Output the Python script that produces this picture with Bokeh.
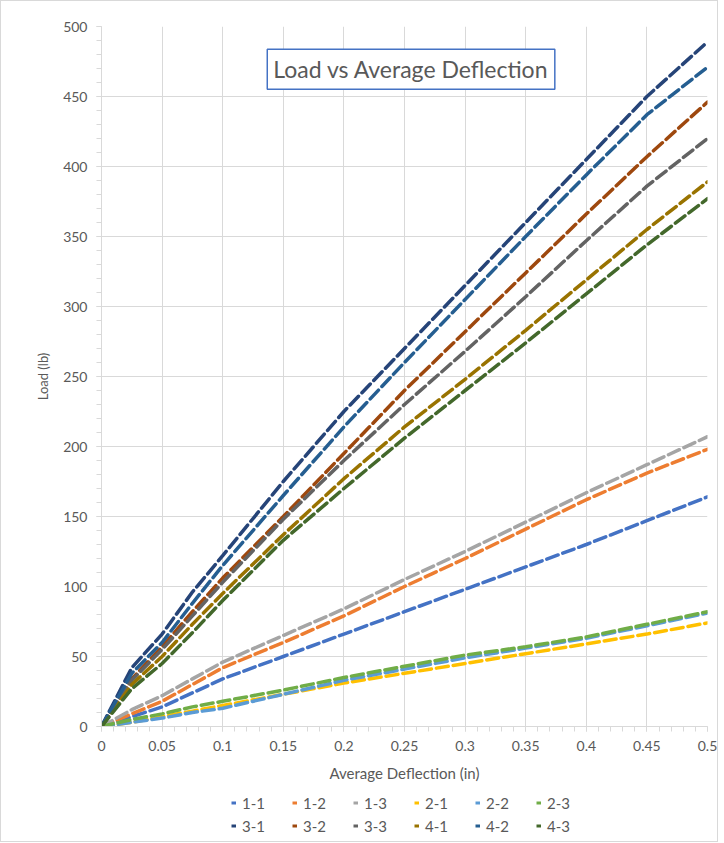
from bokeh.plotting import figure
from bokeh.layouts import column
from bokeh.models import (Range1d, SingleIntervalTicker, NumeralTickFormatter,
                          Label, Legend, LegendItem, ColumnDataSource)
from bokeh.embed import file_html
from bokeh.resources import INLINE

# ---------------- data ----------------
deflection = [0, 0.025, 0.05, 0.075, 0.1, 0.15, 0.2, 0.25, 0.3, 0.35, 0.4, 0.45, 0.5]

load_1_1 = [0, 7, 14, 24, 34, 50, 66, 82, 98, 114, 130, 147, 164]
load_1_2 = [0, 9, 18, 30, 42, 60, 79, 100, 120, 141, 162, 181, 198]
load_1_3 = [0, 12, 22, 34, 46, 65, 84, 105, 125, 146, 167, 187, 207]
load_2_1 = [0, 3, 7, 11, 15, 23, 31, 38, 45, 52, 59, 66, 74]
load_2_2 = [0, 3, 6, 10, 13, 23, 33, 41, 49, 56, 63, 72, 81]
load_2_3 = [0, 5, 9, 14, 18, 26, 35, 43, 51, 57, 64, 73, 82]
load_3_1 = [0, 42, 66, 96, 122, 175, 225, 270, 315, 360, 405, 450, 489]
load_3_2 = [0, 34, 57, 82, 106, 150, 195, 240, 282, 324, 366, 407, 446]
load_3_3 = [0, 33, 55, 79, 103, 148, 190, 230, 268, 307, 347, 386, 420]
load_4_1 = [0, 30, 50, 73, 95, 137, 177, 214, 248, 283, 319, 355, 389]
load_4_2 = [0, 38, 60, 88, 115, 165, 214, 260, 305, 350, 394, 437, 471]
load_4_3 = [0, 27, 45, 67, 90, 133, 170, 206, 240, 274, 309, 344, 377]

series_names = ["1-1", "1-2", "1-3", "2-1", "2-2", "2-3",
                "3-1", "3-2", "3-3", "4-1", "4-2", "4-3"]
series_values = [load_1_1, load_1_2, load_1_3, load_2_1, load_2_2, load_2_3,
                 load_3_1, load_3_2, load_3_3, load_4_1, load_4_2, load_4_3]
series_colors = ["#4472C4", "#ED7D31", "#A5A5A5", "#FFC000", "#5B9BD5", "#70AD47",
                 "#264478", "#9E480E", "#636363", "#997300", "#255E91", "#43682B"]

title_text = "Load vs Average Deflection"
x_title = "Average Deflection (in)"
y_title = "Load (lb)"

# ---------------- main chart ----------------
FONT = "Lato"
TXT = "#595959"
GRID = "#D9D9D9"
DASH = "12 5"
LW = 3.5

p = figure(width=716, height=785, output_backend="svg", toolbar_location=None,
           x_range=Range1d(0, 0.5), y_range=Range1d(0, 500),
           min_border_left=100, min_border_right=10, min_border_top=25,
           min_border_bottom=60)
p.outline_line_color = None
p.background_fill_color = "white"
p.border_fill_color = "white"

p.xaxis.ticker = SingleIntervalTicker(interval=0.05, num_minor_ticks=5)
p.yaxis.ticker = SingleIntervalTicker(interval=50, num_minor_ticks=5)
p.xaxis.formatter = NumeralTickFormatter(format="0.[00]")
p.xgrid.ticker = p.xaxis.ticker
p.ygrid.ticker = p.yaxis.ticker

for ax in (p.xaxis, p.yaxis):
    ax.axis_line_color = GRID
    ax.major_tick_line_color = GRID
    ax.minor_tick_line_color = GRID
    ax.major_tick_out = 5
    ax.major_tick_in = 0
    ax.minor_tick_out = 5
    ax.minor_tick_in = 0
    ax.major_label_text_font = FONT
    ax.major_label_text_font_size = "14px"
    ax.major_label_text_color = TXT
    ax.axis_label_text_font = FONT
    ax.axis_label_text_color = TXT
    ax.axis_label_text_font_style = "normal"

p.xaxis.axis_label = x_title
p.yaxis.axis_label = y_title
p.xaxis.axis_label_text_font_size = "15px"
p.yaxis.axis_label_text_font_size = "13px"
p.xaxis.major_label_standoff = 9
p.yaxis.major_label_standoff = 9
p.xaxis.axis_label_standoff = 10
p.yaxis.axis_label_standoff = 9

p.grid.grid_line_color = GRID
p.grid.grid_line_width = 1

sources = []
for name, vals, col in zip(series_names, series_values, series_colors):
    src = ColumnDataSource(dict(x=deflection, y=vals))
    sources.append(src)
    p.line("x", "y", source=src, line_color=col, line_width=LW,
           line_dash=DASH, line_cap="round")

title = Label(x=0.2554, y=469.4, x_units="data", y_units="data", text=title_text,
              text_align="center", text_baseline="middle",
              text_font=FONT, text_font_size="23px", text_color=TXT,
              border_line_color="#4472C4", border_line_width=1.5,
              background_fill_color="white", padding=6)
p.add_layout(title)

# ---------------- legend strip (its own ranges keep the lines out of view) ----------------
lg = figure(width=716, height=55, output_backend="svg", toolbar_location=None,
            x_range=Range1d(10, 11), y_range=Range1d(1000, 1001),
            x_axis_location=None, y_axis_location=None,
            min_border_left=100, min_border_right=10, min_border_top=0,
            min_border_bottom=0)
lg.grid.visible = False
lg.outline_line_color = None
lg.background_fill_color = "white"
lg.border_fill_color = "white"

items = []
for name, src, col in zip(series_names, sources, series_colors):
    r = lg.line("x", "y", source=src, line_color=col, line_width=3, line_dash=DASH)
    items.append(LegendItem(label=name, renderers=[r]))

legend = Legend(items=items, ncols=6, location=(130, 6), orientation="horizontal",
                glyph_width=5, glyph_height=19, label_standoff=6, spacing=4,
                label_text_font=FONT, label_text_font_size="15px",
                label_text_color=TXT, label_height=19, label_width=46,
                padding=0, margin=0, border_line_color=None,
                background_fill_alpha=0)
lg.add_layout(legend)

layout = column(p, lg, spacing=0)
layout.styles = {"border": "1px solid #D9D9D9"}
open("out.html", "w").write(file_html(layout, INLINE))
